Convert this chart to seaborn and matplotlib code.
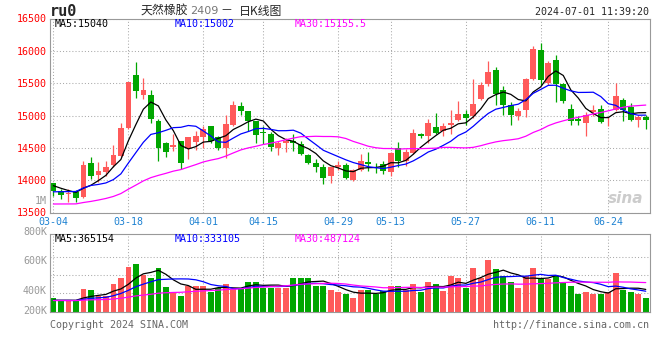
import numpy as np
import pandas as pd
import matplotlib
matplotlib.use("Agg")
import matplotlib.pyplot as plt
import seaborn as sns

# trading days shown (03-04 .. 07-01), exchange holidays removed
holidays = ["2024-04-04", "2024-04-05", "2024-05-01", "2024-05-02", "2024-05-03", "2024-06-10"]
days = pd.bdate_range("2024-03-04", "2024-07-01")
days = days[~days.isin(pd.to_datetime(holidays))]
dates = [d.strftime("%m-%d") for d in days]

opens = [13950, 13840, 13780, 13820, 13745, 14270, 14085, 14125, 14230, 14375,
         14810, 15620, 15310, 15310, 14910, 14570, 14510, 14605, 14505, 14595,
         14670, 14835, 14665, 14505, 14855, 15145, 15065, 14915, 14745, 14710,
         14500, 14570, 14610, 14555, 14395, 14265, 14205, 14065, 14200, 14235,
         13995, 14160, 14280, 14250, 14250, 14120, 14505, 14290, 14420, 14710,
         14685, 14815, 14760, 14848, 14925, 15030, 14990, 15255, 15490, 15705,
         15400, 15170, 14990, 15080, 15560, 16010, 15510, 15855, 15490, 15105,
         14940, 14890, 15050, 15105, 14908, 15090, 15245, 15130, 14930, 14980]
highs = [13960, 13865, 13860, 13850, 14290, 14355, 14280, 14290, 14540, 14890,
         15515, 15820, 15580, 15390, 14940, 14590, 14720, 14610, 14670, 14765,
         14830, 14840, 14690, 15005, 15225, 15210, 15070, 14920, 14840, 14740,
         14610, 14650, 14720, 14600, 14400, 14330, 14250, 14210, 14300, 14260,
         14180, 14405, 14430, 14265, 14300, 14430, 14585, 14480, 14795, 14735,
         14940, 15040, 14890, 15090, 15220, 15090, 15560, 15525, 15845, 15755,
         15450, 15205, 15115, 15575, 16075, 16120, 15840, 15935, 15500, 15185,
         14990, 15050, 15170, 15170, 14980, 15500, 15270, 15195, 15015, 15015]
lows = [13760, 13710, 13655, 13670, 13730, 14025, 13975, 14065, 14210, 14360,
        14785, 15270, 15255, 14885, 14300, 14360, 14455, 14175, 14320, 14460,
        14505, 14570, 14465, 14350, 14840, 15005, 14765, 14570, 14560, 14455,
        14395, 14430, 14455, 14390, 14250, 14120, 13940, 13955, 14150, 14020,
        13990, 14140, 14140, 14105, 14095, 14070, 14200, 14225, 14405, 14645,
        14570, 14710, 14690, 14710, 14915, 14860, 14965, 15245, 15450, 15170,
        15015, 14850, 14930, 14980, 15550, 15475, 15475, 15205, 15195, 14860,
        14860, 14685, 15000, 14880, 14845, 15065, 14915, 14910, 14825, 14785]
closes = [13835, 13775, 13805, 13720, 14240, 14065, 14135, 14210, 14385, 14800,
          15515, 15385, 15400, 14940, 14500, 14435, 14550, 14265, 14665, 14680,
          14785, 14605, 14500, 14865, 15165, 15070, 14920, 14700, 14722, 14520,
          14580, 14610, 14575, 14405, 14265, 14210, 14035, 14205, 14230, 14035,
          14155, 14295, 14250, 14245, 14140, 14420, 14290, 14430, 14725, 14685,
          14880, 14725, 14845, 14878, 15030, 14955, 15185, 15465, 15675, 15335,
          15155, 15005, 15065, 15570, 16025, 15550, 15815, 15485, 15220, 14915,
          14915, 15015, 15090, 14900, 14918, 15295, 15090, 14930, 14975, 14930]
volumes = [220000, 176000, 176000, 176000, 368000, 347000, 264000, 253000, 446000, 550000,
           732000, 776000, 605000, 561000, 726000, 402000, 319000, 264000, 429000, 413000,
           413000, 319000, 396000, 446000, 374000, 396000, 495000, 495000, 396000, 396000,
           396000, 396000, 550000, 550000, 550000, 429000, 429000, 347000, 319000, 281000,
           220000, 347000, 347000, 297000, 341000, 413000, 429000, 347000, 446000, 319000,
           495000, 462000, 335000, 578000, 550000, 396000, 726000, 550000, 858000, 699000,
           578000, 495000, 396000, 578000, 710000, 539000, 539000, 594000, 473000, 429000,
           281000, 330000, 297000, 297000, 319000, 633000, 347000, 330000, 292000, 220000]

# sessions before 03-04, estimated from where the MA lines start on the left edge
prev_close = [13760, 13790, 13700, 13600, 13550, 13500, 13480, 13450, 13460, 13480,
              13500, 13450, 13420, 13450, 13500, 13520, 13550, 13500, 13530, 13550,
              13760, 13790, 13700, 13700, 13675, 13975, 13980, 13870, 13915]
prev_volume = [185000, 178000, 190000, 172000, 181000, 176000, 188000, 183000, 175000, 179000,
               186000, 174000, 182000, 180000, 177000, 184000, 171000, 189000, 180000, 176000,
               183000, 178000, 185000, 174000, 181000, 179000, 176000, 182000, 175000]

tick_dates = ["03-04", "03-18", "04-01", "04-15", "04-29", "05-13", "05-27", "06-11", "06-24"]
price_ticks = [13500, 14000, 14500, 15000, 15500, 16000, 16500]
vol_grid = [300000, 600000, 900000]
vol_labels = ["1M", "800K", "600K", "400K", "200K"]
price_ma_text = ["MA5:15040", "MA10:15002", "MA30:15155.5"]
vol_ma_text = ["MA5:365154", "MA10:333105", "MA30:487124"]

RED = "#ff5a5a"
GREEN = "#00a600"
MA_COLORS = ["black", "#0000ff", "#ff00ff"]
GRID = "#aaaaaa"
MONO = ["DejaVu Sans Mono", "Noto Sans CJK SC"]

n = len(dates)
x = np.arange(n)
o, h, l, c = (np.array(a, dtype=float) for a in (opens, highs, lows, closes))
v = np.array(volumes, dtype=float)
up = c >= o
colors = np.where(up, RED, GREEN)

close_all = pd.Series(prev_close + closes, dtype=float)
vol_all = pd.Series(prev_volume + volumes, dtype=float)
k = len(prev_close)
price_ma = [close_all.rolling(w).mean().iloc[k:].to_numpy() for w in (5, 10, 30)]
vol_ma = [vol_all.rolling(w).mean().iloc[k:].to_numpy() for w in (5, 10, 30)]

sns.set_style("white")
plt.rcParams["font.family"] = MONO

W, H = 660, 360
def fx(px):
    return px / W
def fy(py):
    return 1 - py / H

fig = plt.figure(figsize=(6.6, 3.6), dpi=100)
ax = fig.add_axes([fx(50), fy(212.5), (649.5 - 50) / W, (212.5 - 18.5) / H])
axv = fig.add_axes([fx(50), fy(311.5), (649.5 - 50) / W, (311.5 - 234) / H])

tick_idx = [dates.index(d) for d in tick_dates]

for a in (ax, axv):
    a.set_xlim(-0.45, 79.5)
    for s in a.spines.values():
        s.set_color("#999999")
        s.set_linewidth(0.8)
    a.set_xticks(tick_idx)
    a.set_xticks(x, minor=True)
    a.tick_params(axis="x", which="minor", length=2, direction="in", color="#999999", width=0.7)
    a.tick_params(axis="x", which="major", length=0)
    a.grid(True, which="major", color=GRID, linestyle=(0, (1, 2)), linewidth=0.75)
    a.set_axisbelow(True)

# candles
ax.vlines(x, l, h, colors=colors, linewidth=0.9)
body = np.maximum(np.abs(c - o), 8)
ax.bar(x, body, bottom=np.minimum(o, c), width=0.76, color=colors, linewidth=0)
for ma, col in zip(price_ma, MA_COLORS):
    sns.lineplot(x=x, y=ma, ax=ax, color=col, linewidth=0.9, estimator=None)

ax.set_ylim(13500, 16500)
ax.set_yticks(price_ticks)
ax.set_yticklabels([str(t) for t in price_ticks], color="#ff0000", fontsize=7.2)
ax.tick_params(axis="y", length=0, pad=2)
ax.set_xticklabels(tick_dates, color="#1e82d2", fontsize=7.2)
ax.tick_params(axis="x", which="major", pad=3)

# volume
axv.bar(x, v, width=0.76, color=colors, linewidth=0)
for ma, col in zip(vol_ma, MA_COLORS):
    sns.lineplot(x=x, y=ma, ax=axv, color=col, linewidth=0.9, estimator=None)
axv.set_ylim(0, 77.5 * 16500)
axv.set_yticks(vol_grid)
axv.tick_params(axis="y", length=0, labelleft=False)
axv.set_xticklabels([])

for lbl, py in zip(vol_labels, [201, 232, 261, 291, 311]):
    fig.text(fx(47), fy(py), lbl, color="#999999", fontsize=7.2, ha="right", va="center")

# headers
fig.text(fx(50), fy(11), "ru0", fontsize=11, fontweight="bold", va="center")
fig.text(fx(141), fy(11), "天然橡胶", fontsize=8.6, family="Noto Sans CJK SC", va="center")
fig.text(fx(190), fy(11), "2409", fontsize=8, color="#777777", family="DejaVu Sans", va="center")
fig.text(fx(220), fy(11), "－", fontsize=8.6, family="Noto Sans CJK SC", va="center")
fig.text(fx(239), fy(11), "日K线图", fontsize=8.6, family="Noto Sans CJK SC", va="center")
fig.text(fx(649), fy(12), "2024-07-01 11:39:20", fontsize=7.2, ha="right", va="center")

for txt, px, col in zip(price_ma_text, [55, 175, 295], MA_COLORS):
    fig.text(fx(px), fy(24), txt, color=col, fontsize=7.2, va="center")
for txt, px, col in zip(vol_ma_text, [55, 175, 295], MA_COLORS):
    fig.text(fx(px), fy(239), txt, color=col, fontsize=7.2, va="center")

fig.text(fx(626), fy(198), "sina", fontsize=11, fontweight="bold", style="italic",
         color="#cccccc", family="DejaVu Sans", ha="center", va="center")
fig.text(fx(50), fy(325), "Copyright 2024 SINA.COM", color="#666666", fontsize=7.2, va="center")
fig.text(fx(649), fy(325), "http://finance.sina.com.cn", color="#666666", fontsize=7.2,
         ha="right", va="center")

fig.savefig("out.png", dpi=100, facecolor="white")
